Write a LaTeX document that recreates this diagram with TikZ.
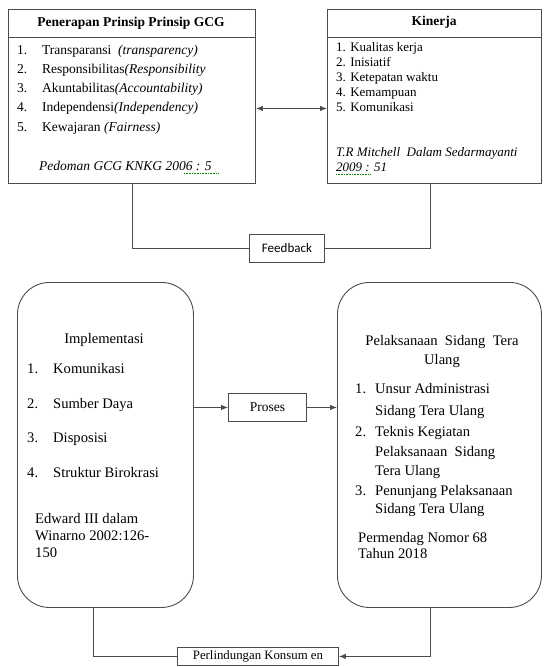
\documentclass[tikz,border=0pt]{standalone}
\usepackage{fontspec}
\setmainfont{Liberation Serif}
\newfontfamily\calibri{Carlito}
\usetikzlibrary{arrows.meta}
\begin{document}
\begin{tikzpicture}[x=1pt,y=-1pt,
  line/.style={draw=black!70,line width=0.9pt},
  box/.style={line,rectangle,inner sep=0pt,anchor=north west},
  rbox/.style={box,rounded corners=32pt},
  txt/.style={anchor=base west,yshift=-4.5pt,inner sep=0pt,font=\fontsize{13.5}{15}\selectfont},
  stxt/.style={anchor=base west,yshift=-4.5pt,inner sep=0pt,font=\fontsize{13}{15}\selectfont},
  btxt/.style={anchor=base west,yshift=-5pt,inner sep=0pt,font=\fontsize{14.6}{16}\selectfont},
  ctxt/.style={inner sep=0pt,font=\fontsize{13.5}{15}\selectfont},
  cbtxt/.style={anchor=base,yshift=-5pt,inner sep=0pt,font=\fontsize{14.6}{16}\selectfont},
  arr/.style={line,-{Latex[length=7pt,width=5.5pt]}},
  darr/.style={line,{Latex[length=7pt,width=5.5pt]}-{Latex[length=7pt,width=5.5pt]}},
  squig/.style={draw=green!55!black,line width=0.6pt,densely dotted}]
\useasboundingbox (0,0) rectangle (546,667);

% ---- top left box
\node[box,minimum width=247pt,minimum height=174pt] (gcg) at (8,9) {};
\draw[line] (8,37) -- (255,37);
\node[ctxt,font=\bfseries\fontsize{13.5}{15}\selectfont] (gcgh) at (131,23) {Penerapan Prinsip Prinsip GCG};
\foreach \n/\t/\y in {1/{Transparansi \ \textit{(transparency)}}/50,
  2/{Responsibilitas\textit{(Responsibility}}/69,
  3/{Akuntabilitas\textit{(Accountability)}}/88,
  4/{Independensi\textit{(Independency)}}/107,
  5/{Kewajaran \textit{(Fairness)}}/127}{
  \node[txt] (gn\n) at (17,\y) {\n.};
  \node[txt] (gt\n) at (42,\y) {\t};
}
\node[txt] (gcit) at (39,166) {\textit{Pedoman GCG KNKG 2006 : 5}};
\draw[squig] (184,173) -- (219,173);

% ---- top right box
\node[box,minimum width=214pt,minimum height=174pt] (kin) at (327,9) {};
\draw[line] (327,37) -- (541,37);
\node[ctxt,font=\bfseries\fontsize{13.5}{15}\selectfont] (kinh) at (434,22) {Kinerja};
\foreach \n/\t/\y in {1/{1. Kualitas kerja}/47,2/{2. Inisiatif}/62,3/{3. Ketepatan waktu}/77,4/{4. Kemampuan}/92,5/{5. Komunikasi}/107}{
  \node[stxt] (kt\n) at (336,\y) {\t};
}
\node[stxt] (kc1) at (336,152) {\textit{T.R Mitchell \ Dalam Sedarmayanti}};
\node[stxt] (kc2) at (336,167) {\textit{2009 : 51}};
\draw[squig] (336,174) -- (370,174);

\draw[darr] ([yshift=-12pt]gcg.east) -- ([yshift=-12pt]kin.west);

% ---- feedback
\node[box,minimum width=75pt,minimum height=28pt] (fb) at (249,234) {};
\node[inner sep=0pt,font=\calibri\fontsize{13}{15}\selectfont] (fbt) at (fb.center) {Feedback};
\draw[line] ([xshift=124pt]gcg.south west) |- (fb.west);
\draw[line] ([xshift=103pt]kin.south west) |- (fb.east);

% ---- bottom left rounded box
\node[rbox,minimum width=176pt,minimum height=325pt] (impl) at (17,282) {};
\node[cbtxt] (implh) at (104,338) {Implementasi};
\foreach \n/\t/\y in {1/Komunikasi/368,2/Sumber Daya/403,3/Disposisi/437,4/Struktur Birokrasi/472}{
  \node[btxt] (in\n) at (27,\y) {\n.};
  \node[btxt] (it\n) at (53,\y) {\t};
}
\node[btxt] (ic1) at (35,518) {Edward III dalam};
\node[btxt] (ic2) at (35,535) {Winarno 2002:126-};
\node[btxt] (ic3) at (35,552) {150};

% ---- bottom right rounded box
\node[rbox,minimum width=204pt,minimum height=325pt] (pel) at (337,282) {};
\node[cbtxt] (pelh1) at (442,340) {Pelaksanaan \ Sidang \ Tera};
\node[cbtxt] (pelh2) at (442,359) {Ulang};
\node[btxt] (pn1) at (355,388) {1.};
\node[btxt] (pt1a) at (375,388) {Unsur Administrasi};
\node[btxt] (pt1b) at (375,410) {Sidang Tera Ulang};
\node[btxt] (pn2) at (355,431) {2.};
\node[btxt] (pt2a) at (375,431) {Teknis Kegiatan};
\node[btxt] (pt2b) at (375,451) {Pelaksanaan \ Sidang};
\node[btxt] (pt2c) at (375,470) {Tera Ulang};
\node[btxt] (pn3) at (355,490) {3.};
\node[btxt] (pt3a) at (375,490) {Penunjang Pelaksanaan};
\node[btxt] (pt3b) at (375,508) {Sidang Tera Ulang};
\node[btxt] (pc1) at (358,537) {Permendag Nomor 68};
\node[btxt] (pc2) at (358,553) {Tahun 2018};

% ---- proses
\node[box,minimum width=78pt,minimum height=28pt] (pro) at (228,393) {};
\node[ctxt] (prot) at (pro.center) {Proses};
\draw[arr] (impl.east |- pro.west) -- (pro.west);
\draw[arr] (pro.east) -- (pro.east -| pel.west);

% ---- perlindungan konsumen
\node[box,minimum width=161pt,minimum height=18pt] (pk) at (177,647) {};
\node[ctxt,font=\fontsize{12.8}{14}\selectfont] (pkt) at (pk.center) {Perlindungan Konsum en};
\draw[line] ([xshift=76pt]impl.south west) |- (pk.west);
\draw[arr] ([xshift=-111pt]pel.south east) |- (pk.east);
\end{tikzpicture}
\end{document}
